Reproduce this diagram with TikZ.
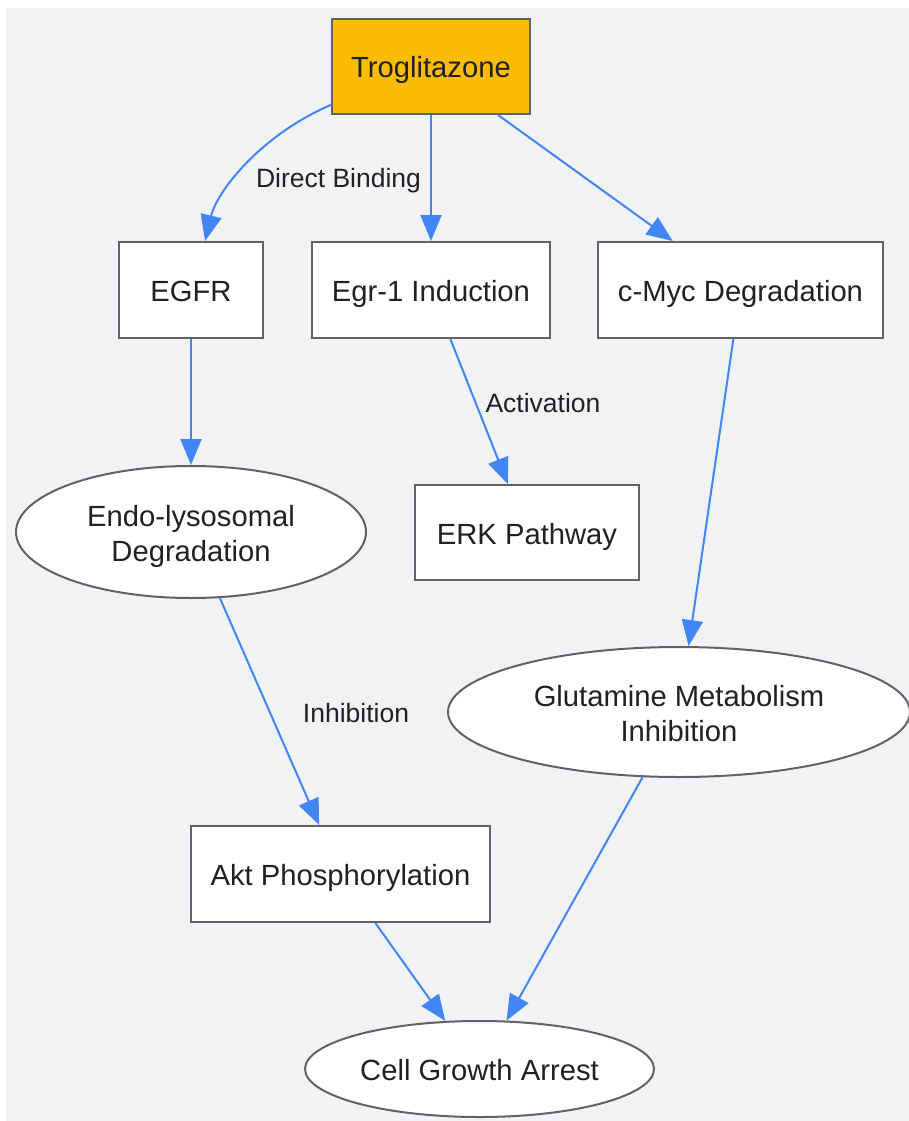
\documentclass[tikz,border=0pt]{standalone}
\usepackage{fontspec}
\setmainfont{Liberation Sans}
\usetikzlibrary{arrows.meta,shapes.geometric}
\definecolor{bgc}{HTML}{F1F2F4}
\definecolor{yel}{HTML}{FBBC05}
\definecolor{bord}{HTML}{5F6368}
\definecolor{arrc}{HTML}{4285F4}
\definecolor{txt}{HTML}{202124}
\newcommand\twolines[2]{\begin{tabular}[t]{@{}c@{}}#1\\#2\end{tabular}}
\begin{document}
\begin{tikzpicture}[x=1pt,y=-1pt,
  base/.style={draw=bord,line width=2pt,text=txt,inner sep=0pt,
    font=\fontsize{29.2}{35}\selectfont},
  one/.style={text height=23pt,text depth=0pt},
  two/.style={text height=0pt,text depth=11.1pt},
  box/.style={base,one,rectangle,fill=white},
  oval/.style={base,ellipse,fill=white},
  start/.style={base,one,rectangle,fill=yel},
  arr/.style={draw=arrc,line width=2pt,-{Triangle[length=26pt,width=21pt]}},
  lbl/.style={text=txt,inner sep=0pt,text height=19pt,text depth=0pt,
    font=\fontsize{26.5}{31}\selectfont}]
\useasboundingbox (0,0) rectangle (909,1121);
\fill[bgc] (6,8) rectangle (909,1121);

\node[start,minimum width=198pt,minimum height=95pt] (trog) at (431,66.5) {Troglitazone};
\node[box,minimum width=144pt,minimum height=96pt] (egfr) at (191,290) {EGFR};
\node[box,minimum width=238pt,minimum height=96pt] (egr) at (431,290) {Egr-1 Induction};
\node[box,minimum width=285pt,minimum height=96pt] (cmyc) at (740.5,290) {c-Myc Degradation};
\node[oval,two,minimum width=350pt,minimum height=132pt] (endo) at (191,532) {\twolines{Endo-lysosomal}{Degradation}};
\node[box,minimum width=224pt,minimum height=95pt] (erk) at (527,532.5) {ERK Pathway};
\node[oval,two,minimum width=462pt,minimum height=130pt] (glut) at (679,712) {\twolines{Glutamine Metabolism}{Inhibition}};
\node[box,minimum width=299pt,minimum height=96pt] (akt) at (340.5,874) {Akt Phosphorylation};
\node[oval,one,minimum width=349pt,minimum height=96pt] (cell) at (479.5,1069) {Cell Growth Arrest};

\draw[arr] (trog.201) .. controls +(-70,30) and +(12,-50) .. (egfr.74);
\draw[arr] (trog) -- (egr);
\draw[arr] (trog) -- (cmyc);
\draw[arr] (egfr) -- (endo);
\draw[arr] (egr) -- (erk);
\draw[arr] (cmyc) -- (glut);
\draw[arr] (endo) -- (akt);
\draw[arr] (akt) -- (cell);
\draw[arr] (glut) -- (cell);

\node[lbl] (l1) at (338.5,178.3) {Direct Binding};
\node[lbl] (l2) at (543,402.8) {Activation};
\node[lbl] (l3) at (356,713.3) {Inhibition};
\end{tikzpicture}
\end{document}
